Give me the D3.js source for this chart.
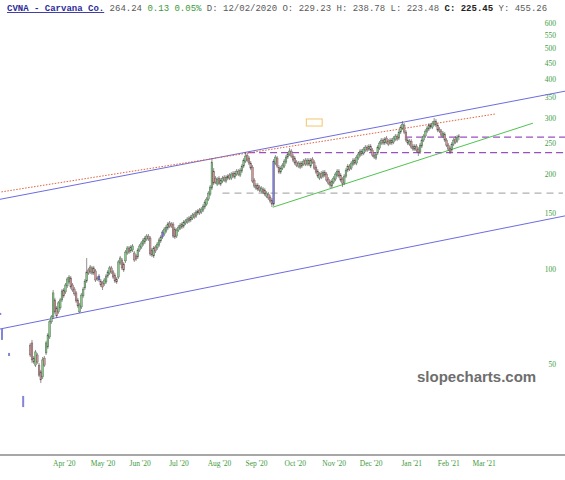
<!DOCTYPE html>
<html>
<head>
<meta charset="utf-8">
<script src="https://cdn.jsdelivr.net/npm/d3@7"></script>
<style>
  body { margin: 0; background: #fff; }
  svg { display: block; }
</style>
</head>
<body>
<svg id="chart" width="565" height="480"></svg>
<script>
// daily candles [open, high, low, close]; the first one is trading day 16
const firstDay = 16;
const candles = [
  [57.4,58.3,52.6,53.4],[58.3,59.6,50.4,51.5],[52.2,53.0,50.0,50.7],[49.6,55.4,48.9,54.6],[53.4,54.2,50.0,50.7],
  [49.6,50.4,45.5,46.1],[47.2,47.9,43.5,44.5],[45.5,52.6,44.8,51.5],[52.2,53.0,48.9,49.6],[54.2,59.2,53.4,58.3],
  [56.6,62.7,55.8,61.8],[60.9,68.9,60.0,68.0],[68.0,71.5,67.0,70.5],[70.5,85.8,69.5,84.0],[79.8,81.0,72.1,73.1],
  [75.3,76.4,70.0,71.0],[73.1,79.2,72.1,78.1],[75.3,81.0,74.2,79.8],[79.8,86.4,78.6,85.2],[85.8,87.1,81.0,82.2],
  [84.6,90.3,83.4,89.0],[88.4,94.3,87.1,93.0],[91.0,95.7,89.7,94.3],[93.7,95.0,86.4,87.7],[89.0,90.3,84.6,85.8],
  [86.4,87.7,82.2,83.4],[84.0,85.2,78.1,79.2],[79.8,81.0,75.3,76.4],[73.1,78.1,72.6,76.9],[75.8,84.0,74.7,82.7],
  [82.2,87.7,81.0,86.4],[87.1,93.0,85.8,91.6],[91.6,108.4,90.3,97.9],[99.3,100.8,95.7,97.1],[101.5,103.0,96.4,97.9],
  [97.1,102.3,95.7,100.8],[100.8,102.3,95.7,97.1],[98.6,100.0,91.0,92.3],[93.7,95.0,91.6,93.0],[95.0,96.4,91.0,92.3],
  [91.6,93.0,87.7,89.0],[90.3,91.6,85.8,87.7],[89.7,93.7,88.4,92.3],[91.0,96.4,89.7,95.0],[95.0,99.3,93.7,97.9],
  [97.1,102.3,95.7,100.8],[100.8,102.3,96.4,97.9],[97.9,99.3,93.0,94.3],[95.7,97.1,90.3,91.6],[93.0,94.3,89.7,91.0],
  [94.3,106.8,93.0,105.3],[104.5,110.0,103.0,108.4],[106.8,108.4,99.3,100.8],[103.8,105.3,97.9,99.3],[106.1,114.9,104.5,113.2],
  [112.4,118.3,110.8,116.6],[116.6,118.3,111.6,113.2],[114.1,119.1,112.4,117.4],[114.9,120.0,113.2,118.3],[112.4,114.1,105.3,106.8],
  [110.0,111.6,106.1,107.6],[109.2,116.6,107.6,114.9],[114.9,120.0,113.2,118.3],[117.4,122.7,115.7,120.9],[120.0,125.4,118.3,123.6],
  [121.8,127.2,120.0,125.4],[124.5,129.1,122.7,127.2],[127.2,129.1,122.7,124.5],[125.4,127.2,110.0,111.6],[114.9,116.6,109.2,110.8],
  [110.0,118.3,108.4,116.6],[117.4,119.1,112.4,114.1],[116.6,121.8,114.9,120.0],[119.1,125.4,117.4,123.6],[122.7,128.1,120.9,126.3],
  [126.3,132.9,124.5,131.0],[129.1,135.8,127.2,133.9],[131.9,137.8,130.0,135.8],[134.8,140.9,132.9,138.9],[139.9,142.0,134.8,136.8],
  [138.9,140.9,134.8,136.8],[138.9,140.9,125.4,127.2],[133.9,135.8,124.5,126.3],[127.2,134.8,125.4,132.9],[132.9,137.8,131.0,135.8],
  [134.8,139.9,132.9,137.8],[138.9,140.9,133.9,135.8],[136.8,143.0,134.8,140.9],[139.9,144.0,137.8,142.0],[140.9,146.2,138.9,144.0],
  [145.1,147.2,139.9,142.0],[143.0,148.3,140.9,146.2],[145.1,150.5,143.0,148.3],[149.4,151.6,144.0,146.2],[147.2,153.8,145.1,151.6],
  [150.5,154.9,148.3,152.7],[153.8,156.1,148.3,150.5],[151.6,157.2,149.4,154.9],[153.8,160.6,151.6,158.3],[157.2,165.4,154.9,163.0],
  [160.6,169.1,158.3,166.6],[166.6,176.6,164.2,174.1],[172.8,184.5,170.3,181.9],[180.5,224.8,178.0,218.3],[204.4,208.9,184.5,187.2],
  [194.2,197.1,185.9,188.6],[185.9,195.6,183.2,192.8],[194.2,197.1,184.5,187.2],[185.9,194.2,183.2,191.4],[190.0,197.1,187.2,194.2],
  [195.6,198.5,188.6,191.4],[190.0,198.5,187.2,195.6],[194.2,200.0,191.4,197.1],[198.5,201.4,191.4,194.2],[194.2,202.9,191.4,200.0],
  [201.4,204.4,194.2,197.1],[195.6,204.4,192.8,201.4],[200.0,207.4,197.1,204.4],[204.4,207.4,197.1,200.0],[198.5,208.9,195.6,205.9],
  [204.4,215.1,201.4,212.0],[212.0,224.8,208.9,221.5],[219.9,234.9,216.7,228.1],[229.7,233.2,218.3,221.5],[224.8,228.1,213.5,216.7],
  [216.7,219.9,205.9,208.9],[210.4,213.5,187.2,190.0],[191.4,194.2,180.5,183.2],[180.5,187.2,177.9,184.5],[184.5,187.2,176.6,179.2],
  [181.9,184.5,175.3,177.9],[176.6,183.2,174.1,180.5],[179.2,181.9,172.8,175.3],[177.9,180.5,170.3,172.8],[170.3,176.6,167.9,174.1],
  [172.8,175.3,165.4,167.9],[169.1,171.6,161.8,164.2],[165.4,167.9,157.2,160.6],[160.6,223.2,158.3,219.9],[216.7,229.7,213.5,226.4],
  [224.8,228.1,208.9,212.0],[210.4,213.5,200.0,202.9],[202.9,212.0,200.0,208.9],[208.9,216.7,205.9,213.5],[212.0,223.2,208.9,219.9],
  [218.3,229.7,215.1,226.4],[226.4,234.9,223.2,231.5],[231.5,241.8,228.1,236.6],[236.6,240.0,224.8,228.1],[228.1,231.5,218.3,221.5],
  [224.8,228.1,213.5,216.7],[218.3,221.5,210.4,213.5],[212.0,219.9,208.9,216.7],[216.7,219.9,207.4,210.4],[212.0,219.9,208.9,216.7],
  [215.1,223.2,212.0,219.9],[221.5,224.8,212.0,215.1],[215.1,224.8,212.0,221.5],[221.5,224.8,212.0,215.1],[212.0,224.8,208.9,221.5],
  [223.2,226.4,215.1,218.3],[218.3,221.5,205.9,208.9],[210.4,213.5,200.0,202.9],[204.4,207.4,194.2,197.1],[194.2,202.9,191.4,200.0],
  [201.4,204.4,192.8,195.6],[197.1,205.9,194.2,202.9],[202.9,205.9,195.6,198.5],[200.0,202.9,188.6,191.4],[192.8,195.6,184.5,187.2],
  [188.6,191.4,180.5,184.5],[183.2,192.8,180.5,190.0],[188.6,197.1,185.9,194.2],[192.8,202.9,190.0,200.0],[198.5,207.4,195.6,204.4],
  [204.4,207.4,194.2,197.1],[198.5,201.4,188.6,191.4],[192.8,195.6,181.9,187.2],[187.2,200.0,184.5,197.1],[197.1,208.9,194.2,205.9],
  [205.9,215.1,202.9,212.0],[212.0,215.1,204.4,207.4],[208.9,219.9,205.9,216.7],[215.1,224.8,212.0,221.5],[221.5,224.8,213.5,216.7],
  [216.7,229.7,213.5,226.4],[224.8,234.9,221.5,231.5],[229.7,240.0,226.4,236.6],[236.6,240.0,228.1,231.5],[233.2,243.5,229.7,240.0],
  [238.3,247.1,234.9,243.5],[243.5,247.1,234.9,238.3],[240.0,248.9,236.6,245.3],[245.3,248.9,234.9,238.3],[238.3,241.8,226.4,229.7],
  [229.7,233.2,223.2,226.4],[224.8,234.9,221.5,231.5],[233.2,247.1,229.7,243.5],[241.8,254.4,238.3,250.8],[250.8,260.1,247.1,256.3],
  [256.3,260.1,247.1,250.8],[250.8,262.0,247.1,258.2],[260.1,263.9,248.9,252.6],[254.4,258.2,245.3,248.9],[250.8,260.1,247.1,256.3],
  [256.3,260.1,247.1,250.8],[252.6,263.9,248.9,260.1],[258.2,267.8,254.4,263.9],[263.9,267.8,254.4,258.2],[260.1,275.7,256.3,271.7],
  [271.7,286.0,267.8,281.8],[279.8,294.4,275.7,288.0],[286.0,290.1,267.8,271.7],[271.7,275.7,252.6,256.3],[256.3,260.1,247.1,250.8],
  [248.9,258.2,245.3,254.4],[254.4,258.2,240.0,243.5],[245.3,248.9,236.6,240.0],[240.0,248.9,236.6,245.3],[245.3,248.9,234.9,238.3],
  [240.0,243.5,228.1,234.9],[234.9,250.8,231.5,247.1],[245.3,260.1,241.8,256.3],[256.3,267.8,252.6,263.9],[263.9,277.7,260.1,273.7],
  [273.7,283.9,269.7,279.8],[277.7,290.1,273.7,286.0],[286.0,290.1,277.7,281.8],[281.8,294.4,277.7,290.1],[288.0,301.0,283.9,294.4],
  [294.4,298.8,281.8,286.0],[286.0,290.1,271.7,275.7],[277.7,281.8,269.7,273.7],[273.7,277.7,262.0,265.8],[263.9,273.7,260.1,269.7],
  [267.8,271.7,252.6,256.3],[256.3,260.1,243.5,247.1],[247.1,250.8,236.6,240.0],[241.8,245.3,231.5,234.9],[238.3,252.6,234.9,248.9],
  [248.9,260.1,245.3,256.3],[258.2,263.9,248.9,252.6],[254.4,265.8,250.8,262.0],[262.0,267.8,256.3,264.2]
];
const blueDays = [55, 91];
const purpleDays = [154];
// odd bars at far left: [day, low, high]
const strayBars = [[-1, 71.5, 72.6], [0, 59.6, 64.6], [4, 53.0, 54.2], [12, 36.5, 39.6]];
const yTicks = [50, 100, 150, 200, 250, 300, 350, 400, 450, 500, 550, 600];

// drawn lines: [[day, price], [day, price]]
const upperChannel = [[-2, 166], [320, 367]];
const lowerChannel = [[-2, 64.4], [320, 147.7]];
const redDotted = [[-2, 175], [279.5, 310]];
const greenTrend = [[153.5, 157], [301, 290]];
const grayLevel = [[125, 174], [318, 174]];
const purpleLow = [[139.5, 234], [320, 234]];
const purpleHigh = [[228.5, 262], [320, 262]];
const orangeBox = [[172.5, 299], [181.5, 284]];

// trading days (weekdays) starting 12 Feb 2020
let days = [];
let dt = new Date(2020, 1, 12);
while (days.length < 330) {
    if (dt.getDay() !== 0 && dt.getDay() !== 6) days.push(new Date(dt));
    dt.setDate(dt.getDate() + 1);
}
let monthTicks = [];
days.forEach(function (day, i) {
    if (i > 0 && day.getMonth() !== days[i - 1].getMonth() &&
        day >= new Date(2020, 3, 1) && day < new Date(2021, 3, 1))
        monthTicks.push(i);
});

let svg = d3.select("#chart");
let x = d3.scaleLinear().domain([0, 320]).range([2, 2 + 1.764 * 320]);
let y = d3.scaleLog().domain([25.73, 615.8]).range([455, 20]);

// header line
let head = svg.append("text")
    .attr("x", 7).attr("y", 11)
    .attr("font-family", "'Courier New', 'Liberation Mono', monospace")
    .attr("font-size", 9)
    .attr("fill", "#5a5a5a")
    .attr("xml:space", "preserve");
head.append("tspan").text("CVNA - Carvana Co.")
    .attr("fill", "#2b2b9c").attr("font-weight", "bold").attr("text-decoration", "underline");
head.append("tspan").text(" 264.24 ");
head.append("tspan").text("0.13 0.05%").attr("fill", "#3a9a3a");
head.append("tspan").text(" D: 12/02/2020 O: 229.23 H: 238.78 L: 223.48 ");
head.append("tspan").text("C: 225.45").attr("fill", "#222").attr("font-weight", "bold");
head.append("tspan").text(" Y: 455.26");

// y axis labels on the right
let yAxis = svg.append("g").attr("transform", "translate(556,0)")
    .call(d3.axisLeft(y).tickValues(yTicks).tickFormat(d3.format("d")).tickSize(0).tickPadding(0));
yAxis.select(".domain").remove();
yAxis.selectAll("text")
    .attr("font-family", "'Liberation Serif', 'Times New Roman', serif")
    .attr("font-size", 7.5).attr("fill", "#3d9b3d");

// x axis
svg.append("line").attr("x1", 0).attr("x2", 565).attr("y1", 455).attr("y2", 455)
    .attr("stroke", "#8a8a8a").attr("stroke-width", 1.5);
let xAxis = svg.append("g").attr("transform", "translate(0,461)")
    .call(d3.axisBottom(x).tickValues(monthTicks)
        .tickFormat(function (i) { return d3.timeFormat("%b '%y")(days[i]); })
        .tickSize(0).tickPadding(0));
xAxis.select(".domain").remove();
xAxis.selectAll("text")
    .attr("font-family", "'Liberation Serif', 'Times New Roman', serif")
    .attr("font-size", 7.5).attr("fill", "#3d9b3d");

// watermark
svg.append("text").attr("x", 417).attr("y", 382)
    .attr("font-family", "'Liberation Sans', Arial, sans-serif")
    .attr("font-weight", "bold").attr("font-size", 15)
    .attr("fill", "#6e6e6e").text("slopecharts.com");

function seg(pts, color, width, dash) {
    let l = svg.append("line")
        .attr("x1", x(pts[0][0])).attr("y1", y(pts[0][1]))
        .attr("x2", x(pts[1][0])).attr("y2", y(pts[1][1]))
        .attr("stroke", color).attr("stroke-width", width);
    if (dash) l.attr("stroke-dasharray", dash);
}

seg(grayLevel, "#b0b0b0", 1.2, "7,5");
seg(purpleLow, "#9a4fc0", 1.2, "7,4");
seg(purpleHigh, "#9a4fc0", 1.2, "7,4");
seg(upperChannel, "#6c6ce0", 1);
seg(lowerChannel, "#6c6ce0", 1);
seg(redDotted, "#e2603c", 1, "1.5,1.5");
seg(greenTrend, "#4fc34f", 1);

svg.append("rect")
    .attr("x", x(orangeBox[0][0])).attr("y", y(orangeBox[0][1]))
    .attr("width", x(orangeBox[1][0]) - x(orangeBox[0][0]))
    .attr("height", y(orangeBox[1][1]) - y(orangeBox[0][1]))
    .attr("fill", "none").attr("stroke", "#f3c46a").attr("stroke-width", 1);

// stray bars on the far left
svg.selectAll(".stray").data(strayBars).join("rect")
    .attr("class", "stray")
    .attr("x", function (b) { return x(b[0]) - 1; })
    .attr("y", function (b) { return y(b[2]); })
    .attr("width", 2)
    .attr("height", function (b) { return y(b[1]) - y(b[2]); })
    .attr("fill", "#8484d8");

// candles
function bodyColor(c, k) {
    let day = firstDay + k;
    if (purpleDays.includes(day)) return "#7f7fe8";
    if (blueDays.includes(day)) return "#7070e8";
    return c[3] >= c[0] ? "#7fcb7f" : "#d49494";
}

let bodyW = 1.7;
let cg = svg.append("g");
cg.selectAll(".wick").data(candles).join("line")
    .attr("class", "wick")
    .attr("x1", function (c, k) { return x(firstDay + k); })
    .attr("x2", function (c, k) { return x(firstDay + k); })
    .attr("y1", function (c) { return y(c[1]); })
    .attr("y2", function (c) { return y(c[2]); })
    .attr("stroke", "#4a4a4a").attr("stroke-width", 0.6);
cg.selectAll(".body").data(candles).join("rect")
    .attr("class", "body")
    .attr("x", function (c, k) { return x(firstDay + k) - bodyW / 2; })
    .attr("y", function (c) { return y(Math.max(c[0], c[3])); })
    .attr("width", bodyW)
    .attr("height", function (c) { return Math.max(0.8, Math.abs(y(c[0]) - y(c[3]))); })
    .attr("fill", bodyColor)
    .attr("stroke", "#505050").attr("stroke-width", 0.4);
</script>
</body>
</html>
